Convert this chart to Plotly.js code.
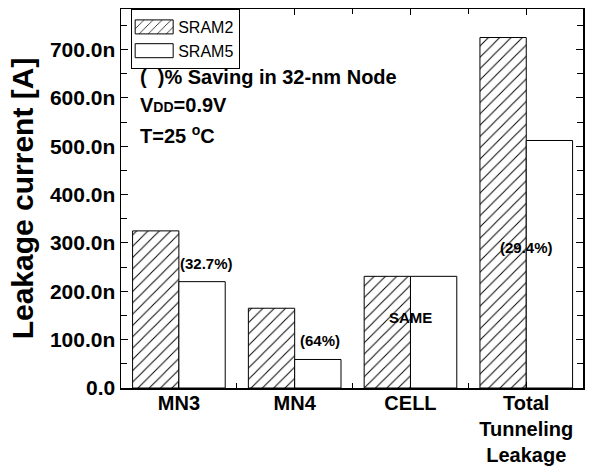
<!DOCTYPE html>
<html>
<head>
<meta charset="utf-8">
<script src="https://cdn.plot.ly/plotly-3.0.1.min.js"></script>
<style>html,body{margin:0;padding:0;background:#fff;}#chart{width:589px;height:473px;}</style>
</head>
<body>
<div id="chart"></div>
<script>
// ---- data ----
const categories = ['MN3', 'MN4', 'CELL', 'Total Tunneling Leakage'];
const tickLabels = ['MN3', 'MN4', 'CELL', 'Total<br>Tunneling<br>Leakage'];
const sram2 = [325e-9, 165e-9, 231e-9, 725e-9];
const sram5 = [220e-9, 59e-9, 231e-9, 512e-9];
const savingLabels = ['(32.7%)', '(64%)', 'SAME', '(29.4%)'];
const yTickVals = [0, 100e-9, 200e-9, 300e-9, 400e-9, 500e-9, 600e-9, 700e-9];
const yTickText = ['0.0', '100.0n', '200.0n', '300.0n', '400.0n', '500.0n', '600.0n', '700.0n'];

const xIdx = categories.map((c, i) => i);
const FONT = 'Liberation Sans, Arial, sans-serif';

const traces = [
  {
    type: 'bar', name: 'SRAM2', x: xIdx, y: sram2,
    marker: {color: 'white', line: {color: 'black', width: 1},
      pattern: {shape: '/', size: 8, solidity: 0.12, fgcolor: 'black', bgcolor: 'white'}},
    hoverinfo: 'skip'
  },
  {
    type: 'bar', name: 'SRAM5', x: xIdx, y: sram5,
    marker: {color: 'white', line: {color: 'black', width: 1}},
    hoverinfo: 'skip'
  }
];

// label placement (layout only)
const labelPos = [
  {dx: 0.24, y: 258e-9},
  {dx: 0.22, y: 99e-9},
  {dx: 0.0, y: 146e-9},
  {dx: 0.0, y: 291e-9}
];
const annotations = savingLabels.map((t, i) => ({
  x: xIdx[i] + labelPos[i].dx, y: labelPos[i].y, xref: 'x', yref: 'y',
  text: t, showarrow: false, xanchor: 'center', yanchor: 'middle',
  font: {family: FONT, size: 15, weight: 'bold', color: 'black'}
}));
const infoText = [
  {text: '(  )% Saving in 32-nm Node', y: 0.82},
  {text: 'V<span style="font-size:14px">DD</span>=0.9V', y: 0.747},
  {text: 'T=25 <sup>o</sup>C', y: 0.67}
];
infoText.forEach(o => annotations.push({
  x: 0.037, y: o.y, xref: 'paper', yref: 'paper', text: o.text, showarrow: false,
  xanchor: 'left', yanchor: 'middle',
  font: {family: FONT, size: 20, weight: 'bold', color: 'black'}
}));

const layout = {
  width: 589, height: 473,
  margin: {l: 121, r: 6, t: 9, b: 85},
  paper_bgcolor: 'white', plot_bgcolor: 'white',
  barmode: 'group', bargap: 0.2, bargroupgap: 0,
  showlegend: true,
  legend: {
    x: 0.022, y: 1, xanchor: 'left', yanchor: 'top',
    bordercolor: 'black', borderwidth: 1, bgcolor: 'white',
    font: {family: FONT, size: 16, color: 'black'},
    tracegroupgap: 0, itemwidth: 36
  },
  xaxis: {
    type: 'linear', range: [-0.5, 3.49],
    tickvals: xIdx, ticktext: tickLabels,
    ticks: 'inside', ticklen: 6, tickwidth: 1, tickcolor: 'black',
    minor: {dtick: 0.5, tick0: 0, ticks: 'inside', ticklen: 5, tickcolor: 'black'},
    showline: true, linecolor: 'black', linewidth: 1.5, mirror: 'ticks',
    showgrid: false, zeroline: false, ticklabelstandoff: -4,
    tickfont: {family: FONT, size: 20, weight: 'bold', color: 'black'}
  },
  yaxis: {
    range: [0, 784e-9],
    tickvals: yTickVals, ticktext: yTickText,
    ticks: 'inside', ticklen: 7, tickwidth: 1, tickcolor: 'black',
    minor: {dtick: 50e-9, tick0: 0, ticks: 'inside', ticklen: 6, tickcolor: 'black'},
    showline: true, linecolor: 'black', linewidth: 1.5, mirror: 'ticks',
    showgrid: false, zeroline: false,
    tickfont: {family: FONT, size: 21, weight: 'bold', color: 'black'},
    title: {text: 'Leakage current [A]', standoff: 7,
      font: {family: FONT, size: 30, weight: 'bold', color: 'black'}}
  },
  annotations: annotations
};

Plotly.newPlot('chart', traces, layout, {displayModeBar: false, staticPlot: true}).then(gd => {
  // widen the legend swatches to the reference's long rectangles
  gd.querySelectorAll('.legend .legendpoints path').forEach(p => {
    p.setAttribute('d', 'M18,7H-20V-7H18Z');
  });
});
</script>
</body>
</html>
